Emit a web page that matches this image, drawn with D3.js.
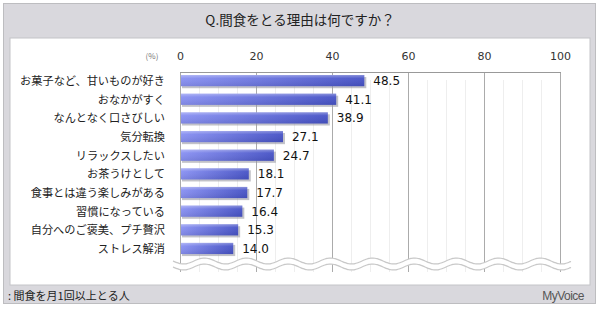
<!DOCTYPE html>
<html>
<head>
<meta charset="utf-8">
<script src="https://cdn.jsdelivr.net/npm/d3@7"></script>
<style>
body { margin: 0; background: #fff; }
svg text { font-family: "Noto Sans CJK JP", "Noto Sans", sans-serif; }
</style>
</head>
<body>
<svg id="chart" width="600" height="312"></svg>
<script>
var categories = ["お菓子など、甘いものが好き", "おなかがすく", "なんとなく口さびしい", "気分転換", "リラックスしたい",
    "お茶うけとして", "食事とは違う楽しみがある", "習慣になっている", "自分へのご褒美、プチ贅沢", "ストレス解消"];
var values = [48.5, 41.1, 38.9, 27.1, 24.7, 18.1, 17.7, 16.4, 15.3, 14.0];
var tickValues = [0, 20, 40, 60, 80, 100];
var minorTicks = d3.range(5, 100, 5);

var svg = d3.select("#chart");

// outer frame
svg.append("rect").attr("x", 3.5).attr("y", 3.5).attr("width", 592).attr("height", 300)
    .attr("fill", "#d9d8dd").attr("stroke", "#bdbdc0");
svg.append("rect").attr("x", 10).attr("y", 38).attr("width", 580).attr("height", 247)
    .attr("fill", "#fff").attr("stroke", "#c4c4c8");

svg.append("text").attr("x", 300).attr("y", 25).attr("text-anchor", "middle")
    .attr("font-size", 13.5).attr("fill", "#222").text("Q.間食をとる理由は何ですか？");

var x = d3.scaleLinear().domain([0, 100]).range([180, 560]);
var y = d3.scaleBand().domain(categories).range([71.3, 257.8]).paddingInner(0.4).paddingOuter(0.2);
var plotTop = 72, plotBottom = 272;

// gradients
var defs = svg.append("defs");
var gh = defs.append("linearGradient").attr("id", "barH").attr("x1", "0").attr("x2", "1").attr("y1", "0").attr("y2", "0");
gh.append("stop").attr("offset", "0%").attr("stop-color", "#8890f2");
gh.append("stop").attr("offset", "100%").attr("stop-color", "#4652c6");
var gv = defs.append("linearGradient").attr("id", "barV").attr("x1", "0").attr("x2", "0").attr("y1", "0").attr("y2", "1");
gv.append("stop").attr("offset", "0%").attr("stop-color", "#fff").attr("stop-opacity", 0.35);
gv.append("stop").attr("offset", "30%").attr("stop-color", "#fff").attr("stop-opacity", 0.05);
gv.append("stop").attr("offset", "100%").attr("stop-color", "#000").attr("stop-opacity", 0.08);

// minor grid
svg.selectAll(".minor").data(minorTicks.filter(function (d) { return d % 20 != 0; })).enter()
    .append("line").attr("x1", function (d) { return Math.round(x(d)) + 0.5; }).attr("x2", function (d) { return Math.round(x(d)) + 0.5; })
    .attr("y1", 80).attr("y2", plotBottom).attr("stroke", "#eeeeee").attr("stroke-width", 1);

// major grid + frame
svg.selectAll(".major").data(tickValues).enter()
    .append("line").attr("x1", function (d) { return Math.round(x(d)) + 0.5; }).attr("x2", function (d) { return Math.round(x(d)) + 0.5; })
    .attr("y1", plotTop).attr("y2", plotBottom).attr("stroke", "#ababab").attr("stroke-width", 1);
svg.append("line").attr("x1", x(0)).attr("x2", x(100) + 1).attr("y1", plotTop + 0.5).attr("y2", plotTop + 0.5)
    .attr("stroke", "#999").attr("stroke-width", 1);

// axis labels
var axis = d3.axisTop(x).tickValues(tickValues).tickSize(0).tickPadding(0);
var ax = svg.append("g").attr("transform", "translate(0,60)").call(axis);
ax.select(".domain").remove();
ax.selectAll("text").attr("font-size", 11).attr("fill", "#333")
    .style("font-family", "'DejaVu Sans', sans-serif");
svg.append("text").attr("x", 152).attr("y", 59).attr("text-anchor", "middle").attr("font-size", 8)
    .attr("fill", "#777").text("(%)");

// bars
var bars = svg.selectAll(".bar").data(values).enter().append("g");
bars.append("rect").attr("x", x(0) + 2).attr("y", function (d, i) { return y(categories[i]) + 2; })
    .attr("width", function (d) { return x(d) - x(0); }).attr("height", y.bandwidth())
    .attr("fill", "#9a9aa4").attr("opacity", 0.6);
bars.append("rect").attr("x", x(0) + 1).attr("y", function (d, i) { return y(categories[i]); })
    .attr("width", function (d) { return x(d) - x(0) - 1; }).attr("height", y.bandwidth())
    .attr("fill", "url(#barH)");
bars.append("rect").attr("x", x(0) + 1).attr("y", function (d, i) { return y(categories[i]); })
    .attr("width", function (d) { return x(d) - x(0) - 1; }).attr("height", y.bandwidth())
    .attr("fill", "url(#barV)");

bars.append("text").attr("x", function (d) { return x(d) + 9; })
    .attr("y", function (d, i) { return y(categories[i]) + y.bandwidth() / 2 + 4.5; })
    .attr("font-size", 12).attr("fill", "#111").style("font-family", "'DejaVu Sans', sans-serif")
    .text(function (d) { return d.toFixed(1); });

svg.selectAll(".cat").data(categories).enter().append("text")
    .attr("x", 165).attr("y", function (d) { return y(d) + y.bandwidth() / 2 + 4.5; })
    .attr("text-anchor", "end").attr("font-size", 11.2).attr("fill", "#222").text(function (d) { return d; });

// wave break
var waveX = d3.range(173, 573, 2);
var waveY = function (px, off) { return off + 3 * Math.sin((px - 173) / 42 * 2 * Math.PI); };
var wave = function (off) {
    return d3.line().curve(d3.curveBasis)(waveX.map(function (px) { return [px, waveY(px, off)]; }));
};
var band = waveX.map(function (px) { return [px, waveY(px, 261)]; })
    .concat(waveX.slice().reverse().map(function (px) { return [px, waveY(px, 267)]; }));
svg.append("path").attr("d", d3.line()(band) + "Z").attr("fill", "#fff");
svg.append("path").attr("d", wave(261)).attr("fill", "none").attr("stroke", "#c8c8c8").attr("stroke-width", 1.2);
svg.append("path").attr("d", wave(267)).attr("fill", "none").attr("stroke", "#c8c8c8").attr("stroke-width", 1.2);

// footer
svg.append("text").attr("x", 8).attr("y", 300).attr("font-size", 11).attr("fill", "#222").text(": 間食を月1回以上とる人");
svg.append("text").attr("x", 584).attr("y", 300).attr("text-anchor", "end").attr("font-size", 12)
    .attr("fill", "#555").style("font-family", "'Liberation Sans', sans-serif").attr("letter-spacing", -0.5).text("MyVoice");
</script>
</body>
</html>
